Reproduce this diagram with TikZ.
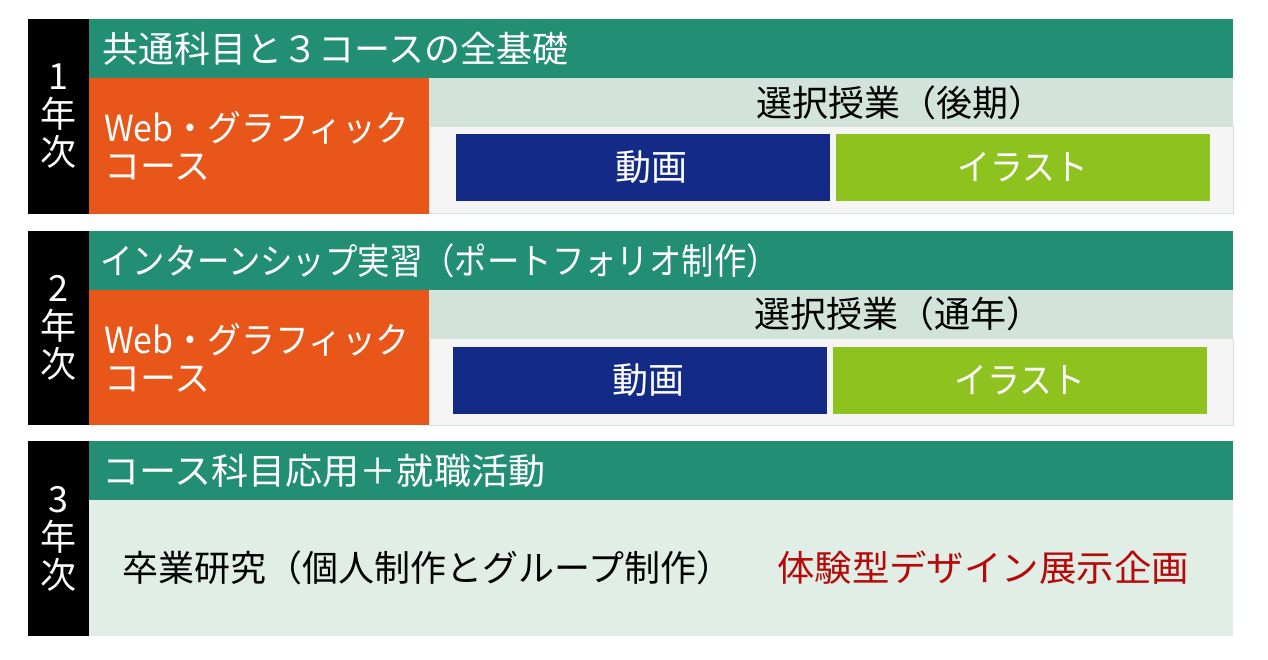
\documentclass[tikz,border=0pt]{standalone}
\usepackage{graphicx}
\usepackage{fontspec}
\setmainfont{Noto Sans CJK JP}
\usetikzlibrary{positioning}

\definecolor{headgreen}{RGB}{34,142,115}
\definecolor{courseorange}{RGB}{232,86,26}
\definecolor{bandgreen}{RGB}{210,228,217}
\definecolor{panelgray}{RGB}{244,245,244}
\definecolor{movienavy}{RGB}{19,42,135}
\definecolor{illustlime}{RGB}{141,194,31}
\definecolor{bodygreen}{RGB}{225,238,230}
\definecolor{eventred}{RGB}{181,10,10}

% horizontal squeeze of a text
\newcommand{\squeeze}[2]{\scalebox{#1}[1]{#2}}

\tikzstyle{area} = [anchor=north west,inner sep=0pt,outer sep=0pt,minimum width=#1]
\tikzstyle{yearbox} = [area=61pt,fill=black,text=white,align=center]
\tikzstyle{headbox} = [area=1144pt,minimum height=59pt,fill=headgreen]
\tikzstyle{coursebox} = [area=340pt,fill=courseorange]
\tikzstyle{bandbox} = [area=804pt,fill=bandgreen]
\tikzstyle{panelbox} = [area=804pt,minimum height=87pt,fill=panelgray,draw=bandgreen,line width=1pt]
\tikzstyle{choicebox} = [area=374pt,minimum height=67pt,text=white]
\tikzstyle{txt} = [inner sep=0pt]

\begin{document}
\begin{tikzpicture}[x=1pt,y=-1pt,font=\fontsize{36}{38}\selectfont]
	\useasboundingbox (0,0) rectangle (1268,660);

	% 1年次
	\node[headbox] (head1) at (89,19) {};
	\node[coursebox,minimum height=136pt] (web1) at (89,78) {};
	\node[panelbox] (pan1) at (429,127) {};
	\node[bandbox,minimum height=49pt] (sel1) at (429,78) {};
	\node[choicebox,fill=movienavy] (mov1) at (456,134) {\hspace{16pt}動画};
	\node[choicebox,fill=illustlime] (ill1) at (836,134) {\squeeze{0.91}{イラスト}};
	\node[yearbox,minimum height=195pt] (yr1) at (28,19) {1\\年\\次};
	\node[txt,text=white,right=13pt of head1.west] (head1t) {共通科目と３コースの全基礎};
	\node[txt,text=white,align=left,right=15pt of web1.west] (web1t) {\squeeze{0.94}{Web・グラフィック}\\コース};
	\node[txt,right=327pt of sel1.west] (sel1t) {選択授業（後期）};

	% 2年次
	\node[headbox] (head2) at (89,231) {};
	\node[coursebox,minimum height=135pt] (web2) at (89,290) {};
	\node[panelbox] (pan2) at (429,338) {};
	\node[bandbox,minimum height=48pt] (sel2) at (429,290) {};
	\node[choicebox,fill=movienavy] (mov2) at (453,347) {\hspace{16pt}動画};
	\node[choicebox,fill=illustlime] (ill2) at (833,347) {\squeeze{0.91}{イラスト}};
	\node[yearbox,minimum height=194pt] (yr2) at (28,231) {2\\年\\次};
	\node[txt,text=white,right=11pt of head2.west] (head2t) {\squeeze{0.9}{インターンシップ実習（ポートフォリオ制作）}};
	\node[txt,text=white,align=left,right=15pt of web2.west] (web2t) {\squeeze{0.94}{Web・グラフィック}\\コース};
	\node[txt,right=325pt of sel2.west] (sel2t) {選択授業（通年）};

	% 3年次
	\node[headbox] (head3) at (89,441) {};
	\node[area=1144pt,minimum height=136pt,fill=bodygreen] (body3) at (89,500) {};
	\node[yearbox,minimum height=195pt] (yr3) at (28,441) {3\\年\\次};
	\node[txt,text=white,right=13pt of head3.west] (head3t) {\squeeze{1.03}{コース科目応用＋就職活動}};
	\node[txt,right=33pt of body3.west] (thesis) {卒業研究（個人制作とグループ制作）};
	\node[txt,text=eventred,right=688pt of body3.west] (event) {\squeeze{1.04}{体験型デザイン展示企画}};
\end{tikzpicture}
\end{document}
